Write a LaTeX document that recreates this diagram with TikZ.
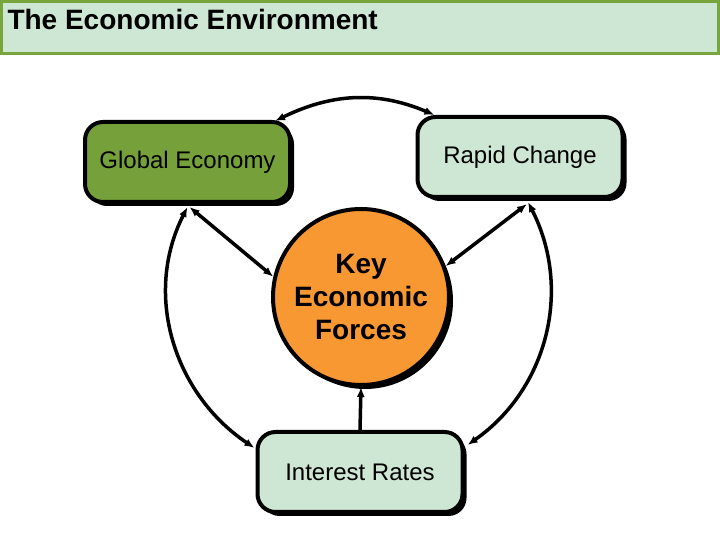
\documentclass[tikz,border=0pt]{standalone}
\usepackage{fontspec}
\setmainfont{Liberation Sans}
\usetikzlibrary{calc, positioning}
\usetikzlibrary{arrows.meta}
\usetikzlibrary{shadows}
\definecolor{olivegreen}{RGB}{118,161,58}
\definecolor{mintgreen}{RGB}{206,230,212}
\definecolor{forceorange}{RGB}{247,152,50}
\definecolor{titleframe}{RGB}{120,165,60}

\begin{document}
\begin{tikzpicture}[x=1pt, y=1pt,
  topicbox/.style={rectangle, rounded corners=18pt, draw=black, line width=4pt,
    minimum width=205pt, minimum height=80pt, inner sep=0pt,
    font=\fontsize{24}{28}\selectfont,
    drop shadow={shadow xshift=4pt, shadow yshift=-4pt, fill=black, opacity=1}},
  keycircle/.style={circle, draw=black, line width=4pt, fill=forceorange,
    minimum size=176pt, inner sep=0pt, align=center,
    font=\fontsize{28}{33}\selectfont\bfseries,
    drop shadow={shadow xshift=4pt, shadow yshift=-4pt, fill=black, opacity=1}},
  link/.style={line width=3.5pt, {Latex[length=10pt,width=8pt]}-{Latex[length=10pt,width=8pt]}},
  onelink/.style={line width=3.5pt, -{Latex[length=10pt,width=8pt]}}]
\useasboundingbox (0,0) rectangle (720,540);

% title bar
\draw[titleframe, line width=3pt, fill=mintgreen] (1.5,538) rectangle (718.5,486);
\node[anchor=west, font=\fontsize{28}{32}\selectfont\bfseries] (title) at (4,520) {The Economic Environment};

% the four topics
\node[topicbox, fill=olivegreen] (global) at (187.5,378) {Global Economy};
\node[topicbox, fill=mintgreen] (rapid) at (520,383) {Rapid Change};
\node[keycircle] (forces) at (361,243) {Key\\Economic\\Forces};
\node[topicbox, fill=mintgreen] (rates) at (360,68) {Interest Rates};

% connectors (the outer ones follow one circle round the forces)
\draw[link] ($(global.north east)+(-17,-1)$) to[out=26, in=157] ($(rapid.north west)+(19,0)$);
\draw[link] ([xshift=2pt, yshift=-3pt]global.south) -- (forces.167);
\draw[link] ([xshift=7pt, yshift=-5pt]rapid.south) -- (forces.20);
\draw[link] ([yshift=-3pt]global.south) to[out=243, in=146] ($(rates.north west)+(-1,-18)$);
\draw[link] ([xshift=8pt, yshift=-3pt]rapid.south) to[out=-63, in=35] ($(rates.north east)+(3,-15)$);
\draw[onelink] (rates.north) -- (forces.south);
\end{tikzpicture}
\end{document}
